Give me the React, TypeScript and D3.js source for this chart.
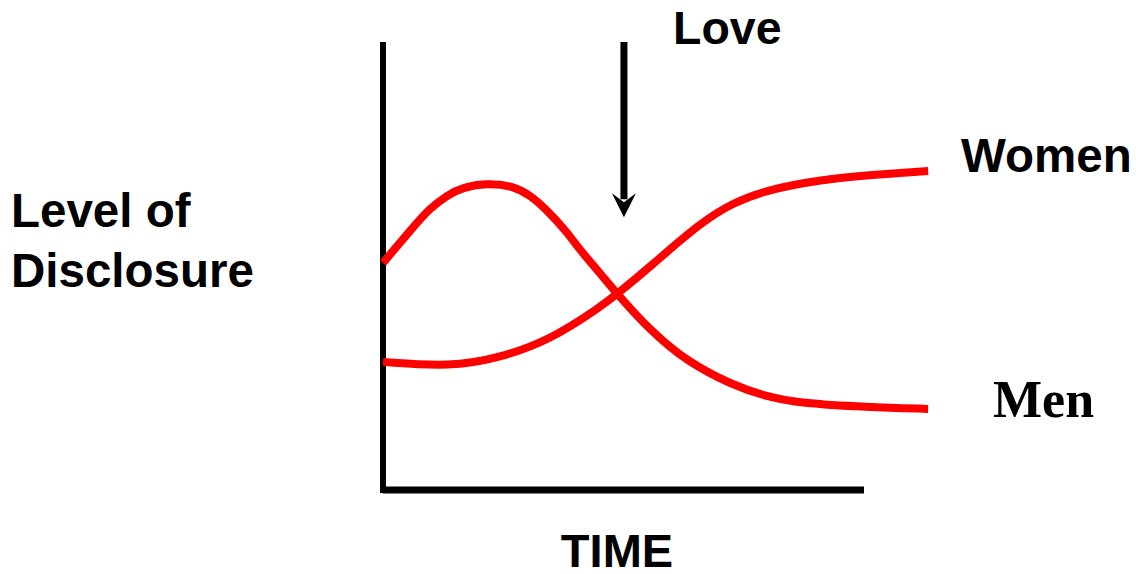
import * as d3 from "d3";

// time (0-100 along the axis, curves run a bit past the axis end)
const menTime = [0, 6.3, 9.8, 13.4, 16.7, 21.7, 27.1, 30.7, 34.2, 38.4, 41.1, 45.3, 48.9, 55.7, 63.5, 73, 80.2, 87, 101, 113.8];
const menLevel = [50.7, 58.7, 62.9, 65.8, 67.6, 68.5, 67.9, 65.8, 62.5, 57.6, 53.6, 48.4, 43.75, 35.7, 28.6, 23.4, 20.8, 19.4, 18.5, 18.1];
const womenTime = [0, 14, 24.4, 34.9, 45.3, 48.9, 55.7, 66.2, 73, 80.2, 91.2, 101, 113.8];
const womenLevel = [28.6, 27.5, 29.5, 33.5, 40.8, 43.75, 49.8, 59.6, 64.1, 67, 69.2, 70.3, 71.2];

const loveTime = 50.3;
const loveTop = 100;
const loveTip = 60.9;

const W = 1136;
const H = 574;

export default function App() {
  const x = d3.scaleLinear().domain([0, 100]).range([383, 862]);
  const y = d3.scaleLinear().domain([0, 100]).range([490, 42]);

  const line = d3
    .line<[number, number]>()
    .x((d) => x(d[0]))
    .y((d) => y(d[1]))
    .curve(d3.curveBasis);

  const men = menTime.map((t, i) => [t, menLevel[i]] as [number, number]);
  const women = womenTime.map((t, i) => [t, womenLevel[i]] as [number, number]);

  const ax = x(loveTime);
  const tip = y(loveTip);

  const sans = "Arial, 'Liberation Sans', Helvetica, sans-serif";

  return (
    <div style={{ position: "fixed", left: 0, top: 0 }}>
      <svg width={W} height={H} style={{ display: "block", background: "#fff" }}>
        {/* axes */}
        <line x1={x(0)} y1={y(100)} x2={x(0)} y2={y(0) + 3} stroke="#000" strokeWidth={6} />
        <line x1={x(0)} y1={y(0)} x2={x(100) + 2} y2={y(0)} stroke="#000" strokeWidth={7} />

        {/* curves */}
        <path d={line(men) || ""} fill="none" stroke="#ff0000" strokeWidth={8} />
        <path d={line(women) || ""} fill="none" stroke="#ff0000" strokeWidth={8} />

        {/* love arrow */}
        <line x1={ax} y1={y(loveTop)} x2={ax} y2={tip - 18} stroke="#000" strokeWidth={7} />
        <polygon
          points={`${ax - 12},${tip - 24} ${ax},${tip - 15} ${ax + 12},${tip - 24} ${ax},${tip}`}
          fill="#000"
        />

        {/* labels */}
        <text x={673} y={44} fontFamily={sans} fontWeight="bold" fontSize={46.5}>Love</text>
        <text x={961} y={172} fontFamily={sans} fontWeight="bold" fontSize={47.5}>Women</text>
        <text x={993} y={417} fontFamily="'Times New Roman', 'Liberation Serif', serif" fontWeight="bold" fontSize={52}>Men</text>
        <text x={11} y={227} fontFamily={sans} fontWeight="bold" fontSize={47.5}>Level of</text>
        <text x={11} y={287} fontFamily={sans} fontWeight="bold" fontSize={47.5}>Disclosure</text>
        <text x={617} y={567} textAnchor="middle" fontFamily={sans} fontWeight="bold" fontSize={47}>TIME</text>
      </svg>
    </div>
  );
}
